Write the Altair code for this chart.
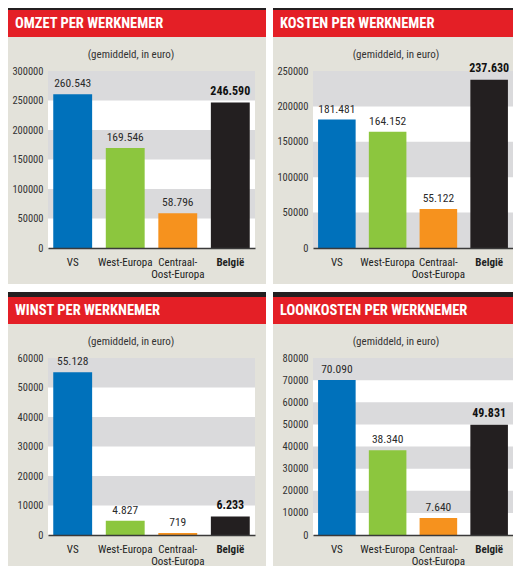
import altair as alt
import pandas as pd

FONT = "Roboto Condensed, Liberation Sans, Arial, sans-serif"

categories = ["VS", "West-Europa", "Centraal-Oost-Europa", "België"]
bar_colors = ["#0071bb", "#8cc63e", "#f6921e", "#231f20"]

omzet = [260543, 169546, 58796, 246590]
kosten = [181481, 164152, 55122, 237630]
winst = [55128, 4827, 719, 6233]
loonkosten = [70090, 38340, 7640, 49831]

omzet_ticks = [0, 50000, 100000, 150000, 200000, 250000, 300000]
kosten_ticks = [0, 50000, 100000, 150000, 200000, 250000]
winst_ticks = [0, 10000, 20000, 30000, 40000, 50000, 60000]
loon_ticks = [0, 10000, 20000, 30000, 40000, 50000, 60000, 70000, 80000]

titles = ["OMZET PER WERKNEMER", "KOSTEN PER WERKNEMER",
          "WINST PER WERKNEMER", "LOONKOSTEN PER WERKNEMER"]
subtitle = "(gemiddeld, in euro)"

BEIGE = "#e3e2da"
GRAY = "#dadadc"
RED = "#e41f26"
DARK = "#231f20"
H = 177


def panel(title, values, ticks, width, left_ext, right_ext, strip_top, bottom_ext):
    df = pd.DataFrame({"cat": categories, "value": values})
    df["label"] = [f"{v:,}".replace(",", ".") for v in values]
    top = ticks[-1]
    n = len(ticks) - 1
    bands = pd.DataFrame({"y0": ticks[:-1], "y1": ticks[1:]})
    bands["gray"] = [(n - 1 - i) % 2 == 0 for i in range(n)]
    bands = bands[bands["gray"]]

    yscale = alt.Scale(domain=[0, top], nice=False, zero=True)
    yaxis = alt.Axis(values=ticks, format="d", grid=False, ticks=False, domain=False,
                     labelPadding=5, labelFontSize=10.5, labelColor="#333333",
                     labelFont=FONT, title=None, zindex=1)
    xscale = alt.Scale(domain=categories, paddingInner=0.26, paddingOuter=0.1)
    xaxis = alt.Axis(title=None, labelAngle=0, ticks=False, domainColor="#3a3a3a",
                     domainWidth=1.5, labelPadding=8, labelFontSize=11,
                     labelLineHeight=12, labelFont=FONT, labelColor="#222222",
                     labelExpr="datum.value === 'Centraal-Oost-Europa' ? ['Centraal-', 'Oost-Europa'] : datum.label",
                     labelFontWeight={"condition": {"test": "datum.value === 'België'", "value": "bold"},
                                      "value": "normal"},
                     zindex=1)

    one = alt.Data(values=[{"t": title, "s": subtitle}])

    beige = alt.Chart(one).mark_rect(color=BEIGE).encode(
        x=alt.value(-left_ext), x2=alt.value(width + right_ext),
        y=alt.value(-61), y2=alt.value(H + bottom_ext))
    strip = alt.Chart(one).mark_rect(color=DARK).encode(
        x=alt.value(-left_ext), x2=alt.value(width + right_ext),
        y=alt.value(strip_top), y2=alt.value(-61))
    red = alt.Chart(one).mark_rect(color=RED).encode(
        x=alt.value(-left_ext), x2=alt.value(width + right_ext),
        y=alt.value(-61), y2=alt.value(-34))
    head = alt.Chart(one).mark_text(font=FONT, fontSize=14.5, fontWeight="bold", color="white",
                                    align="left", baseline="middle",
                                    limit=width + right_ext + 30).encode(
        x=alt.value(-33), y=alt.value(-47), text="t:N")
    sub = alt.Chart(one).mark_text(font=FONT, fontSize=11, color="#333333",
                                   align="center", baseline="middle").encode(
        x=alt.value(83), y=alt.value(-16), text="s:N")
    plotbg = alt.Chart(one).mark_rect(color="white").encode(
        x=alt.value(0), x2=alt.value(width), y=alt.value(0), y2=alt.value(H))
    band = alt.Chart(bands).mark_rect(color=GRAY).encode(
        x=alt.value(0), x2=alt.value(width),
        y=alt.Y("y1:Q", scale=yscale, axis=yaxis), y2="y0:Q")

    base = alt.Chart(df).encode(
        x=alt.X("cat:N", sort=categories, scale=xscale, axis=xaxis),
        y=alt.Y("value:Q", scale=yscale, axis=yaxis))
    bars = base.mark_bar().encode(
        color=alt.Color("cat:N", scale=alt.Scale(domain=categories, range=bar_colors), legend=None))
    lab = base.mark_text(font=FONT, fontSize=11.5, color="#2a2a2a", baseline="bottom", dy=-5).encode(
        text="label:N").transform_filter("datum.cat !== 'België'")
    labb = base.mark_text(font=FONT, fontSize=12, fontWeight="bold", color="#111111",
                          baseline="bottom", dy=-5).encode(
        text="label:N").transform_filter("datum.cat === 'België'")

    return alt.layer(beige, strip, red, head, sub, plotbg, band, bars, lab, labb).properties(
        width=width, height=H)


p1 = panel(titles[0], omzet, omzet_ticks, 207, 40, 11, -63, 36)
p2 = panel(titles[1], kosten, kosten_ticks, 200, 40, 0, -63, 36)
p3 = panel(titles[2], winst, winst_ticks, 207, 40, 11, -66, 31)
p4 = panel(titles[3], loonkosten, loon_ticks, 200, 40, 0, -66, 31)

chart = alt.vconcat(
    alt.hconcat(p1, p2, spacing=7),
    alt.hconcat(p3, p4, spacing=7),
    spacing=8,
).properties(padding=0, background="white").configure_view(stroke=None)

chart.save("out.html", embed_options={"renderer": "svg", "actions": False})
